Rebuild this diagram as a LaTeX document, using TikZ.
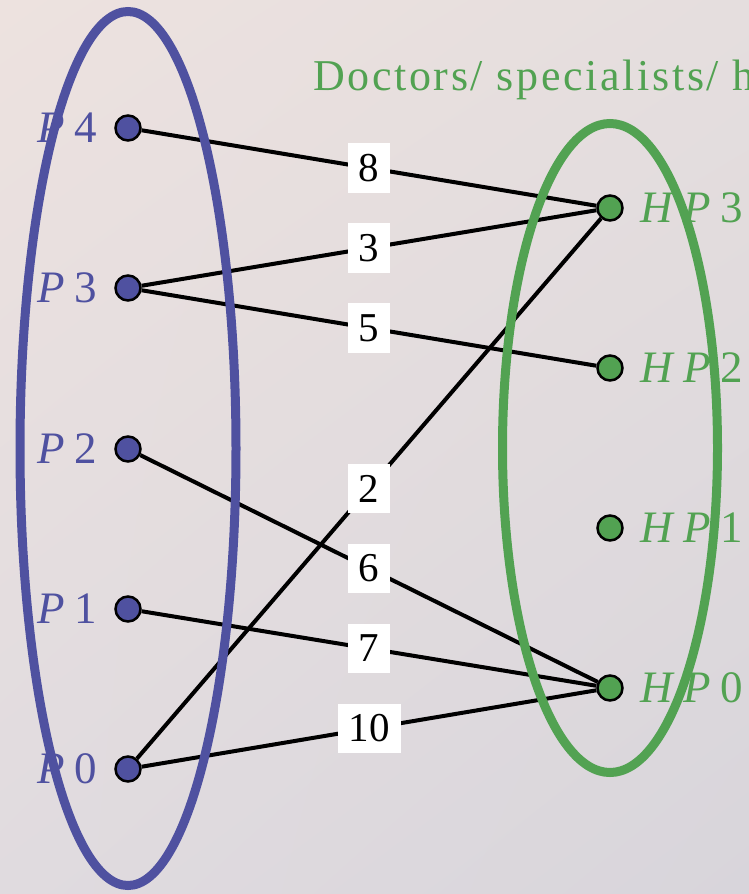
\documentclass[tikz,border=0pt]{standalone}
\usepackage{fontspec}
\setmainfont{Liberation Serif}
\newfontfamily\titlefont[LetterSpace=6]{Liberation Serif}
\definecolor{pblue}{RGB}{79,81,160}
\definecolor{hgreen}{RGB}{82,162,82}
\definecolor{bgtl}{RGB}{237,226,223}
\definecolor{bgtr}{RGB}{229,222,222}
\definecolor{bgbl}{RGB}{224,219,223}
\definecolor{bgbr}{RGB}{216,213,219}
\usetikzlibrary{positioning,shadings}

\begin{document}
\begin{tikzpicture}[x=1pt, y=-1pt,
  pnode/.style={circle, draw=black, line width=2.5pt, fill=pblue, minimum size=25pt, inner sep=0pt},
  hnode/.style={pnode, fill=hgreen},
  plabel/.style={text=pblue, font=\fontsize{45}{48}\selectfont, inner sep=0pt, label distance=17pt},
  hlabel/.style={text=hgreen, font=\fontsize{45}{48}\selectfont, inner sep=0pt, label distance=17pt},
  cost/.style={fill=white, inner sep=11pt, font=\fontsize{41}{44}\selectfont},
  link/.style={line width=4pt}]

% --- Background ---
\useasboundingbox (0,0) rectangle (749,894);
\clip (0,0) rectangle (749,894);
\shade[upper left=bgtl, upper right=bgtr, lower left=bgbl, lower right=bgbr] (0,0) rectangle (749,894);

% --- Title ---
\node[anchor=base west, inner sep=0pt, text=hgreen, font=\titlefont\fontsize{44}{48}\selectfont]
  (title) at (313,90) {Doctors/ specialists/ h};

% --- Patients ---
\node[pnode, label={[plabel]left:{\itshape P}\hspace{.22em}4}] (p4) at (128,128) {};
\node[pnode, label={[plabel]left:{\itshape P}\hspace{.22em}3}] (p3) at (128,288) {};
\node[pnode, label={[plabel]left:{\itshape P}\hspace{.22em}2}] (p2) at (128,449) {};
\node[pnode, label={[plabel]left:{\itshape P}\hspace{.22em}1}] (p1) at (128,609) {};
\node[pnode, label={[plabel]left:{\itshape P}\hspace{.22em}0}] (p0) at (128,769) {};

% --- Doctors / hospitals ---
\node[hnode, label={[hlabel]right:{\itshape H\hspace{.22em}P}\hspace{.22em}3}] (hp3) at (610,208) {};
\node[hnode, label={[hlabel]right:{\itshape H\hspace{.22em}P}\hspace{.22em}2}] (hp2) at (610,368) {};
\node[hnode, label={[hlabel]right:{\itshape H\hspace{.22em}P}\hspace{.22em}1}] (hp1) at (610,528) {};
\node[hnode, label={[hlabel]right:{\itshape H\hspace{.22em}P}\hspace{.22em}0}] (hp0) at (610,688) {};

% --- Weighted edges ---
\draw[link] (p4) -- node[cost] {8} (hp3);
\draw[link] (p3) -- node[cost] {3} (hp3);
\draw[link] (p3) -- node[cost] {5} (hp2);
\draw[link] (p0) -- node[cost] {2} (hp3);
\draw[link] (p2) -- node[cost] {6} (hp0);
\draw[link] (p1) -- node[cost] {7} (hp0);
\draw[link] (p0) -- node[cost] {10} (hp0);

% --- Groups ---
\draw[pblue, line width=9pt] (128,448.5) ellipse [x radius=108, y radius=437];
\draw[hgreen, line width=9pt] (610,448) ellipse [x radius=107.5, y radius=324.5];

\end{tikzpicture}
\end{document}
